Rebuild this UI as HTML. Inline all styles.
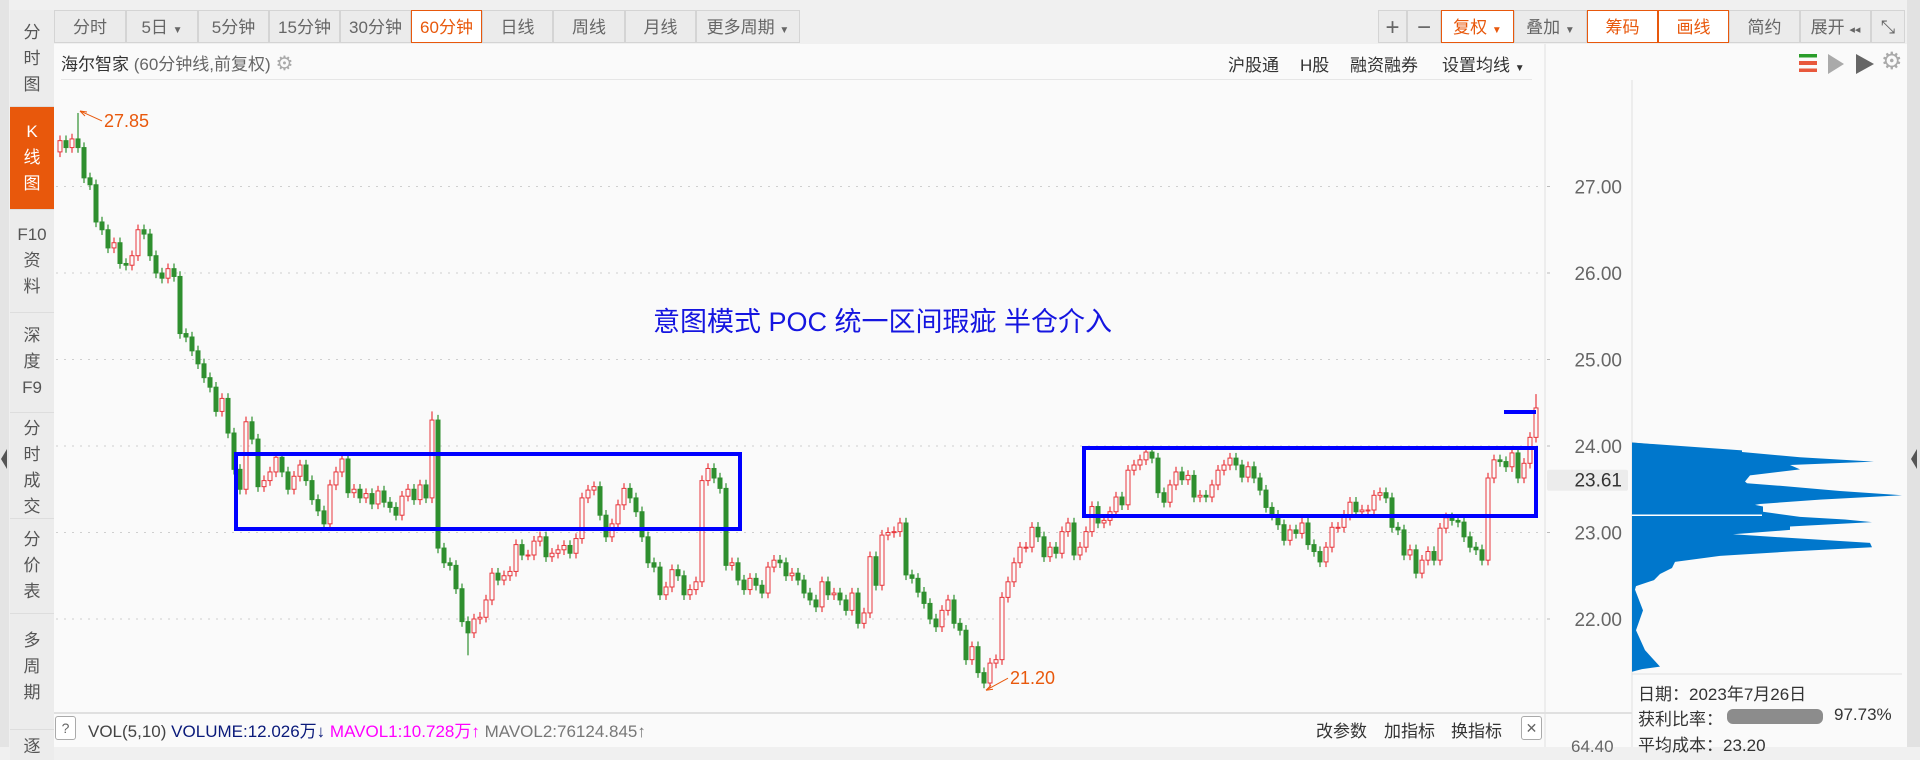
<!DOCTYPE html>
<html><head><meta charset="utf-8">
<style>
body{margin:0;width:1920px;height:747px;overflow:hidden;background:#f0f0f0;font-family:"Liberation Sans","Noto Sans CJK SC",sans-serif;position:relative}
.abs{position:absolute}
.tb{position:absolute;top:10px;height:33px;border:1px solid #d4d4d4;background:#ebebeb;color:#666;font-size:17px;line-height:33px;text-align:center;box-sizing:border-box}
.tb.on{border-color:#e8580c;color:#e8580c;background:#fff}
.side{position:absolute;left:10px;width:44px;color:#555;font-size:17px;text-align:center;line-height:26px;border-bottom:1px solid #ddd;box-sizing:border-box;background:#ececec}
</style></head><body>
<div class="abs" style="left:0;top:0;width:9px;height:747px;background:#e4e4e4"></div>
<div class="abs" style="left:1px;top:449px;width:0;height:0;border-top:10px solid transparent;border-bottom:10px solid transparent;border-right:6px solid #555"></div>
<div class="side" style="top:10px;height:97px;padding-top:10px">分<br>时<br>图</div>
<div class="side" style="top:107px;height:103px;padding-top:12px;background:#e8580c;color:#fff">K<br>线<br>图</div>
<div class="side" style="top:210px;height:103px;padding-top:12px">F10<br>资<br>料</div>
<div class="side" style="top:313px;height:100px;padding-top:10px">深<br>度<br>F9</div>
<div class="side" style="top:413px;height:106px;padding-top:3px">分<br>时<br>成<br>交</div>
<div class="side" style="top:519px;height:95px;padding-top:8px">分<br>价<br>表</div>
<div class="side" style="top:614px;height:116px;padding-top:14px">多<br>周<br>期</div>
<div class="side" style="top:730px;height:30px;padding-top:4px;border:none">逐</div>

<div class="abs" style="left:54px;top:44px;width:1853px;height:703px;background:#fafafa"></div>
<div class="abs" style="left:1907px;top:0;width:13px;height:747px;background:#e2e2e2"></div>
<div class="abs" style="left:1911px;top:449px;width:0;height:0;border-top:10px solid transparent;border-bottom:10px solid transparent;border-right:6px solid #555"></div>

<div class="tb" style="left:54px;width:72px">分时</div>
<div class="tb" style="left:126px;width:72px">5日 <span style="font-size:10px">▼</span></div>
<div class="tb" style="left:198px;width:71px">5分钟</div>
<div class="tb" style="left:269px;width:71px">15分钟</div>
<div class="tb" style="left:340px;width:71px">30分钟</div>
<div class="tb on" style="left:411px;width:71px">60分钟</div>
<div class="tb" style="left:482px;width:71px">日线</div>
<div class="tb" style="left:553px;width:72px">周线</div>
<div class="tb" style="left:625px;width:71px">月线</div>
<div class="tb" style="left:696px;width:104px">更多周期 <span style="font-size:10px">▼</span></div>

<div class="tb" style="left:1378px;width:29px;font-size:24px">+</div>
<div class="tb" style="left:1407px;width:34px;font-size:24px">−</div>
<div class="tb on" style="left:1441px;width:73px">复权 <span style="font-size:10px">▼</span></div>
<div class="tb" style="left:1514px;width:73px">叠加 <span style="font-size:10px">▼</span></div>
<div class="tb on" style="left:1587px;width:71px">筹码</div>
<div class="tb on" style="left:1658px;width:71px">画线</div>
<div class="tb" style="left:1729px;width:71px">简约</div>
<div class="tb" style="left:1800px;width:71px">展开 <span style="font-size:11px">◂◂</span></div>
<div class="tb" style="left:1871px;width:34px;font-size:18px">⤡</div>

<div class="abs" style="left:61px;top:50px;font-size:17px;color:#333">海尔智家 <span style="color:#666">(60分钟线,前复权)</span> <span style="color:#aaa;font-size:20px">⚙</span></div>
<div class="abs" style="left:1228px;top:51px;font-size:17px;color:#333">沪股通</div>
<div class="abs" style="left:1300px;top:51px;font-size:17px;color:#333">H股</div>
<div class="abs" style="left:1350px;top:51px;font-size:17px;color:#333">融资融券</div>
<div class="abs" style="left:1442px;top:51px;font-size:17px;color:#333">设置均线 <span style="font-size:10px">▼</span></div>
<div class="abs" style="left:61px;top:79px;width:1471px;height:1px;background:#e6e6e6"></div>
<div class="abs" style="left:1799px;top:54px;width:18px;height:18px;background:linear-gradient(#2a9d2a 0 20%,transparent 20% 40%,#e8583c 40% 60%,transparent 60% 80%,#e8583c 80%)"></div>
<div class="abs" style="left:1828px;top:54px;width:0;height:0;border-top:10px solid transparent;border-bottom:10px solid transparent;border-left:16px solid #aaa"></div>
<div class="abs" style="left:1856px;top:54px;width:0;height:0;border-top:10px solid transparent;border-bottom:10px solid transparent;border-left:18px solid #666"></div>
<div class="abs" style="left:1881px;top:47px;font-size:24px;color:#aaa">⚙</div>

<svg class="abs" style="left:0;top:0" width="1920" height="747" id="chart"></svg>

<div class="abs" style="left:55px;top:716px;width:19px;height:22px;border:1px solid #aaa;border-radius:3px;font-size:14px;text-align:center;line-height:22px;color:#666;background:#fff">?</div>
<div class="abs" style="left:88px;top:717px;font-size:17px;white-space:nowrap"><span style="color:#444">VOL(5,10)</span> <span style="color:#0a1a7a">VOLUME:12.026万↓</span> <span style="color:#ff00ff">MAVOL1:10.728万↑</span> <span style="color:#777">MAVOL2:76124.845↑</span></div>
<div class="abs" style="left:1316px;top:717px;font-size:17px;color:#333">改参数</div>
<div class="abs" style="left:1384px;top:717px;font-size:17px;color:#333">加指标</div>
<div class="abs" style="left:1451px;top:717px;font-size:17px;color:#333">换指标</div>
<div class="abs" style="left:1521px;top:716px;width:19px;height:22px;border:1px solid #aaa;border-radius:3px;font-size:14px;text-align:center;line-height:22px;color:#666;background:#fff">✕</div>
<div class="abs" style="left:1571px;top:737px;font-size:17px;color:#666">64.40</div>

<div class="abs" style="left:1638px;top:680px;font-size:17px;color:#333">日期：2023年7月26日</div>
<div class="abs" style="left:1638px;top:705px;font-size:17px;color:#333">获利比率：</div>
<div class="abs" style="left:1727px;top:709px;width:96px;height:15px;border-radius:6px;background:#8c8c8c"></div>
<div class="abs" style="left:1834px;top:705px;font-size:17px;color:#333">97.73%</div>
<div class="abs" style="left:1638px;top:731px;font-size:17px;color:#333">平均成本：23.20</div>

<script>
const closes=[27.53,27.45,27.55,27.45,27.10,27.02,26.59,26.50,26.29,26.35,
26.11,26.09,26.2,26.5,26.45,26.2,26.0,25.94,26.05,25.96,
25.3,25.26,25.1,24.95,24.79,24.68,24.4,24.55,24.15,23.73,
23.5,24.28,24.08,23.53,23.6,23.7,23.87,23.7,23.5,23.65,
23.78,23.6,23.38,23.25,23.1,23.55,23.7,23.85,23.46,23.5,
23.4,23.45,23.33,23.48,23.35,23.29,23.2,23.42,23.5,23.38,
23.55,23.4,24.3,22.82,22.65,22.62,22.35,21.97,21.84,22.0,
22.02,22.22,22.53,22.45,22.5,22.55,22.86,22.74,22.74,22.9,
22.95,22.72,22.76,22.8,22.85,22.76,22.93,23.4,23.49,23.53,
23.2,22.95,23.1,23.32,23.51,23.4,23.24,22.95,22.65,22.6,
22.28,22.37,22.57,22.5,22.28,22.34,22.43,23.6,23.74,23.63,
23.51,22.62,22.65,22.45,22.34,22.47,22.39,22.3,22.6,22.68,
22.65,22.5,22.53,22.45,22.3,22.22,22.14,22.43,22.28,22.3,
22.22,22.1,22.3,21.95,22.07,22.72,22.39,22.97,23.0,23.01,
23.11,22.51,22.47,22.31,22.18,22.0,21.91,22.1,22.22,21.95,
21.87,21.53,21.68,21.38,21.26,21.49,21.53,22.25,22.43,22.65,
22.83,22.83,23.06,22.95,22.72,22.83,22.76,23.01,23.11,22.74,
22.83,23.01,23.3,23.11,23.14,23.24,23.41,23.32,23.72,23.78,
23.84,23.93,23.86,23.46,23.35,23.55,23.7,23.61,23.66,23.41,
23.43,23.41,23.55,23.72,23.78,23.86,23.78,23.64,23.76,23.63,
23.49,23.29,23.2,23.09,22.91,23.03,22.99,23.11,22.86,22.78,
22.66,22.83,23.06,23.06,23.2,23.35,23.24,23.26,23.26,23.43,
23.46,23.4,23.06,23.03,22.74,22.8,22.53,22.68,22.78,22.68,
23.05,23.17,23.14,23.12,22.95,22.83,22.8,22.68,23.63,23.84,
23.82,23.76,23.92,23.63,23.8,24.1,24.44];
const firstOpen=27.4;
const highIdx=[3,62,246];
const highVal=[27.85,24.4,24.6];
const lowIdx=[68,154];
const lowVal=[21.58,21.20];
const yTicks=[27,26,25,24,23,22];
const yTickLabels=["27.00","26.00","25.00","24.00","23.00","22.00"];
const lastPrice=[23.61];
const chipPrices=[24.04,23.95,23.93,23.87,23.82,23.78,23.73,23.66,23.59,23.57,23.54,23.48,23.43,23.38,23.33,23.32,23.3,23.24,23.18,23.15,23.12,23.07,23.03,22.98,22.93,22.88,22.83,22.78,22.73,22.66,22.59,22.52,22.45,22.38,22.34,22.1,21.87,21.64,21.55,21.45,21.42,21.39];
const chipVolumes=[0,110,110,168,242,158,168,118,113,115,148,208,270,188,128,123,131,131,168,213,240,158,158,101,168,238,240,158,88,43,40,28,22,4,3,11,4,13,20,28,10,0];
const chipGrayAbove=[24.04,23.93];

const svg=document.getElementById('chart');
const NS='http://www.w3.org/2000/svg';
function mk(tag,attrs,parent){const e=document.createElementNS(NS,tag);for(const k in attrs)e.setAttribute(k,attrs[k]);(parent||svg).appendChild(e);return e;}
const X0=60,STEP=6,PLOT_L=56,PLOT_R=1545,CHIP_L=1632;
function yScale(p){return 446+(24-p)*86.5;}
function xScale(i){return X0+i*STEP;}
function chipX(v){return CHIP_L+v;}

let e;
e=mk('line',{x1:PLOT_R,y1:44,x2:PLOT_R,y2:747,stroke:'#e0e0e0'});


e=mk('line',{x1:CHIP_L,y1:80,x2:CHIP_L,y2:747,stroke:'#e0e0e0'});


e=mk('line',{x1:54,y1:713,x2:1632,y2:713,stroke:'#e0e0e0',"stroke-width":2});


e=mk('line',{x1:CHIP_L,y1:674,x2:1902,y2:674,stroke:'#e0e0e0'});



yTicks.forEach((t,k)=>{
  const y=yScale(t);
  const g=mk('line',{x1:PLOT_L,y1:y,x2:PLOT_R-6,y2:y,stroke:'#cfcfcf',"stroke-dasharray":'2,6'});
  
  
  const tk=mk('line',{x1:PLOT_R+2,y1:y,x2:PLOT_R+5,y2:y,stroke:'#bbb'});
  
  
  const tx=mk('text',{x:1622,y:y+7,"text-anchor":'end',"font-size":19,fill:'#666',"font-family":'Liberation Sans, sans-serif'});
  tx.textContent=yTickLabels[k];
  
  
});

{
  const y=yScale(lastPrice[0]);
  const r=mk('rect',{x:1547,y:y-10,width:81,height:21,fill:'#ececec',rx:2});
  
  
  const t=mk('text',{x:1622,y:y+7,"text-anchor":'end',"font-size":19,fill:'#333',"font-family":'Liberation Sans, sans-serif'});
  t.textContent=lastPrice[0].toFixed(2);
  
  
}

closes.forEach((c,i)=>{
  const o=i===0?firstOpen:closes[i-1];
  let h=Math.max(o,c)+0.06, l=Math.min(o,c)-0.06;
  const hi=highIdx.indexOf(i); if(hi>=0)h=highVal[hi];
  const li=lowIdx.indexOf(i); if(li>=0)l=lowVal[li];
  const up=c>=o;
  const col=up?'#e8383d':'#2f8f2f';
  const x=xScale(i);
  const g=mk('g',{});
  
  
  mk('line',{x1:x,y1:yScale(h),x2:x,y2:yScale(l),stroke:col,"stroke-width":1.2},g);
  const top=yScale(Math.max(o,c)),bot=yScale(Math.min(o,c));
  mk('rect',{x:x-2,y:top,width:4,height:Math.max(1,bot-top),fill:up?'#fafafa':col,stroke:col,"stroke-width":1},g);
});

function ann(idx,price,label,dy){
  const x=xScale(idx),y=yScale(price);
  const g=mk('g',{});
  
  
  mk('line',{x1:x+2,y1:y+ (dy<0?2:-2),x2:x+24,y2:y+dy,stroke:'#e8580c',"stroke-width":1},g);
  mk('path',{d:`M${x+2} ${y+(dy<0?2:-2)} l7 ${dy<0?-1:1} M${x+2} ${y+(dy<0?2:-2)} l5 ${dy<0?-5:5}`,stroke:'#e8580c',fill:'none'},g);
  const t=mk('text',{x:x+26,y:y+dy+6,"font-size":18,fill:'#e8580c',"font-family":'Liberation Sans, sans-serif'},g);
  t.textContent=label;
}
ann(highIdx[0],highVal[0],highVal[0].toFixed(2),8);
ann(lowIdx[1],lowVal[1],lowVal[1].toFixed(2),-10);

[[236,454,740,529],[1084,448,1536,516]].forEach(b=>{
  const r=mk('rect',{x:b[0],y:b[1],width:b[2]-b[0],height:b[3]-b[1],fill:'none',stroke:'#0000ff',"stroke-width":4});
  
  
});
e=mk('line',{x1:1504,y1:412,x2:1536,y2:412,stroke:'#0000ff',"stroke-width":4});


e=mk('text',{x:653,y:331,"font-size":27,fill:'#1515e0',"font-family":'Liberation Sans, Noto Sans CJK SC, sans-serif'});
e.textContent='意图模式 POC 统一区间瑕疵 半仓介入';



{
  let d=`M${CHIP_L} ${yScale(chipPrices[0])}`;
  let g=`M${CHIP_L} ${yScale(chipGrayAbove[0])}`;
  chipPrices.forEach((p,k)=>{d+=` L${chipX(chipVolumes[k])} ${yScale(p)}`;});
  d+=` L${CHIP_L} ${yScale(chipPrices[chipPrices.length-1])} Z`;
  g+=` L${chipX(110)} ${yScale(chipGrayAbove[1])} L${CHIP_L} ${yScale(chipGrayAbove[1])} Z`;
  const pg=mk('path',{d:g,fill:'#777'});
  
  
  const pb=mk('path',{d:d,fill:'#0077cc'});
  
  
  const pl=mk('line',{x1:CHIP_L,y1:yScale(23.2),x2:1762,y2:yScale(23.2),stroke:'#fff',"stroke-width":1.5});
  
  
}
</script>
</body></html>
